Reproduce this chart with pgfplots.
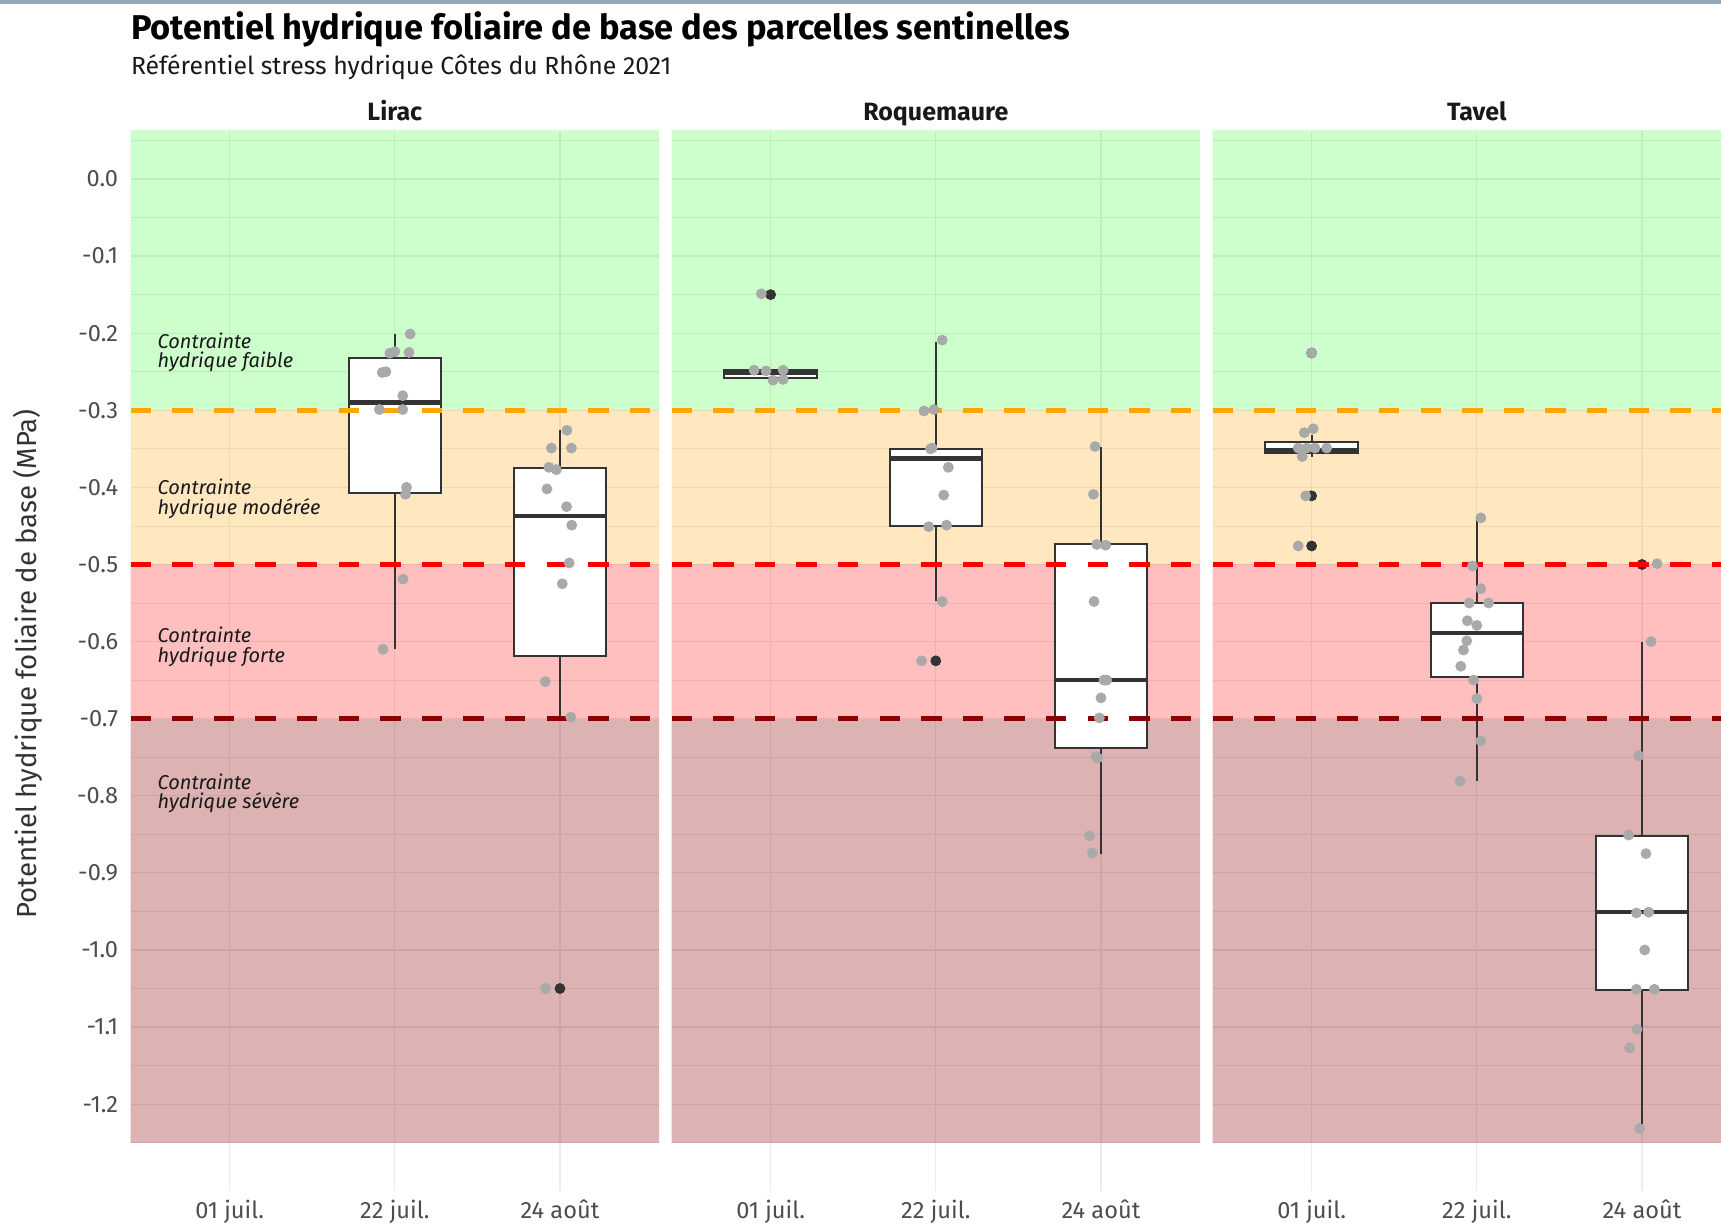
\documentclass[border=0pt]{standalone}
\usepackage{fontspec}
\setmainfont{Fira Sans}
\usepackage{pgfplots}
\pgfplotsset{compat=1.18}

\definecolor{gridc}{HTML}{EBEBEB}
\definecolor{boxc}{HTML}{333333}
\definecolor{ptc}{HTML}{A9A9A9}
\definecolor{tickc}{HTML}{4D4D4D}
\definecolor{darkred}{HTML}{8B0000}
\definecolor{orng}{HTML}{FFA500}
\definecolor{topbar}{HTML}{95A7B5}

\tikzset{note/.style={anchor=west, align=left, inner sep=0pt, font=\itshape\fontsize{10}{9.9}\selectfont, text=black!90}}

\pgfplotsset{
  panel/.style={
    scale only axis, width=264.3pt, height=530.05pt,
    xmin=0.4, xmax=3.6, ymin=-1.3125, ymax=0.0625,
    xtick={1,2,3}, xticklabels={01 juil.,22 juil.,24 août},
    ytick={-1.2,-1.1,-1.0,-0.9,-0.8,-0.7,-0.6,-0.5,-0.4,-0.3,-0.2,-0.1,0},
    minor ytick={-1.25,-1.15,-1.05,-0.95,-0.85,-0.75,-0.65,-0.55,-0.45,-0.35,-0.25,-0.15,-0.05,0.05},
    yticklabels={},
    xmajorgrids, ymajorgrids, yminorgrids,
    major grid style={draw=gridc, line width=0.6pt},
    minor grid style={draw=gridc, line width=0.4pt},
    axis line style={draw=none},
    major tick length=0pt, minor tick length=0pt,
    xticklabel style={font=\fontsize{11.8}{13}\selectfont, text=tickc, anchor=base, yshift=-13.55pt},
    clip mode=individual,
  },
  zone/.style={draw=none, fill=#1, fill opacity=0.2},
  seuil/.style={#1, line width=2.3pt, dash pattern=on 10.2pt off 10.6pt},
  pts/.style={only marks, mark=*, mark size=2.5pt, color=ptc, mark options={draw=none, fill=ptc}},
  outl/.style={only marks, mark=*, mark size=2.5pt, color=boxc, mark options={draw=none, fill=boxc}},
}

% bandes de contrainte et seuils, communs aux trois panneaux
\newcommand{\zones}{%
  \addplot[zone=green] coordinates {(0,-0.3) (4,-0.3) (4,1) (0,1)};
  \addplot[zone=orng, fill opacity=0.25] coordinates {(0,-0.5) (4,-0.5) (4,-0.3) (0,-0.3)};
  \addplot[zone=red, fill opacity=0.25] coordinates {(0,-0.7) (4,-0.7) (4,-0.5) (0,-0.5)};
  \addplot[zone=darkred, fill opacity=0.3] coordinates {(0,-1.25) (4,-1.25) (4,-0.7) (0,-0.7)};
}
\newcommand{\seuils}[1]{%
  \addplot[seuil=orng] coordinates {(0.4,-0.3) (#1,-0.3)};
  \addplot[seuil=red] coordinates {(0.4,-0.5) (#1,-0.5)};
  \addplot[seuil=darkred] coordinates {(0.4,-0.7) (#1,-0.7)};
}
% boite : position, moustache basse, Q1, mediane, Q3, moustache haute
\newcommand{\boite}[6]{%
  \pgfmathsetmacro{\bl}{#1-0.28}\pgfmathsetmacro{\br}{#1+0.28}%
  \addplot[boxc, line width=1pt] coordinates {(#1,#2) (#1,#3)};
  \addplot[boxc, line width=1pt] coordinates {(#1,#5) (#1,#6)};
  \addplot[boxc, fill=white, line width=1pt, line join=miter, line cap=rect] coordinates {(\bl,#3) (\br,#3) (\br,#5) (\bl,#5) (\bl,#3)};
  \addplot[boxc, line width=2.3pt] coordinates {(\bl,#4) (\br,#4)};
}

\begin{document}
\begin{tikzpicture}
\useasboundingbox (0,0) rectangle (860.5pt,611.5pt);
\fill[topbar] (0,609.5pt) rectangle (860.5pt,611.5pt);

% ---- Lirac
\begin{axis}[panel, at={(65.25pt,16.05pt)}, anchor=south west,
  yticklabels={-1.2,-1.1,-1.0,-0.9,-0.8,-0.7,-0.6,-0.5,-0.4,-0.3,-0.2,-0.1,0.0},
  yticklabel style={font=\fontsize{11.8}{13}\selectfont, text=tickc, anchor=east, inner sep=0pt, xshift=-6pt}]
\zones
\boite{2}{-0.609}{-0.407}{-0.290}{-0.232}{-0.201}
\boite{3}{-0.700}{-0.619}{-0.437}{-0.375}{-0.326}
\addplot[outl] coordinates {(3,-1.05)};
\seuils{3.6}
\addplot[pts] table {
x y
2.093 -0.201
2.000 -0.224
1.970 -0.226
2.086 -0.225
1.924 -0.251
1.946 -0.250
2.048 -0.281
1.907 -0.299
2.048 -0.299
2.071 -0.400
2.065 -0.409
2.050 -0.519
1.929 -0.610
3.042 -0.326
2.948 -0.349
3.069 -0.349
2.933 -0.374
2.978 -0.377
2.921 -0.402
3.040 -0.425
3.071 -0.449
3.056 -0.498
3.014 -0.525
2.911 -0.652
3.065 -0.698
2.913 -1.050
};
\node[note] at (axis cs:0.562,-0.225) {Contrainte\\hydrique faible};
\node[note] at (axis cs:0.562,-0.415) {Contrainte\\hydrique modérée};
\node[note] at (axis cs:0.562,-0.607) {Contrainte\\hydrique forte};
\node[note] at (axis cs:0.562,-0.797) {Contrainte\\hydrique sévère};
\end{axis}

% ---- Roquemaure
\begin{axis}[panel, at={(335.75pt,16.05pt)}, anchor=south west]
\zones
\boite{1}{-0.261}{-0.2585}{-0.251}{-0.248}{-0.248}
\boite{2}{-0.548}{-0.450}{-0.3626}{-0.3505}{-0.211}
\boite{3}{-0.876}{-0.738}{-0.650}{-0.474}{-0.348}
\addplot[outl] coordinates {(1,-0.150) (2,-0.625)};
\seuils{3.6}
\addplot[pts] table {
x y
0.944 -0.149
0.900 -0.248
0.972 -0.249
1.076 -0.248
1.015 -0.261
1.076 -0.260
2.039 -0.209
1.929 -0.301
1.989 -0.299
1.968 -0.350
1.978 -0.349
2.076 -0.374
2.048 -0.410
1.957 -0.451
2.065 -0.449
2.039 -0.548
1.914 -0.625
2.964 -0.347
2.954 -0.409
2.974 -0.474
3.028 -0.475
2.958 -0.548
3.018 -0.650
3.034 -0.650
3.000 -0.673
2.990 -0.699
2.970 -0.749
2.980 -0.751
2.930 -0.852
2.948 -0.874
};
\end{axis}

% ---- Tavel (coupé à droite comme dans l'original)
\begin{axis}[panel, at={(606.25pt,16.05pt)}, anchor=south west, width=254.25pt, xmax=3.478]
\zones
\boite{1}{-0.360}{-0.356}{-0.352}{-0.3406}{-0.3315}
\boite{2}{-0.781}{-0.6456}{-0.589}{-0.5505}{-0.441}
\boite{3}{-1.2315}{-1.0518}{-0.951}{-0.852}{-0.601}
\addplot[outl] coordinates {(1,-0.2257) (1,-0.411) (1,-0.476) (3,-0.500)};
\seuils{3.478}
\addplot[pts] table {
x y
1.000 -0.2257
1.010 -0.324
0.956 -0.329
0.919 -0.349
0.970 -0.349
1.020 -0.349
1.091 -0.349
0.943 -0.360
0.964 -0.411
0.919 -0.476
2.024 -0.4395
1.974 -0.502
2.024 -0.5315
1.954 -0.550
2.071 -0.550
1.943 -0.573
2.000 -0.579
1.939 -0.599
1.919 -0.611
1.903 -0.632
1.980 -0.650
2.000 -0.674
2.024 -0.729
1.899 -0.781
3.091 -0.499
3.055 -0.600
2.980 -0.748
2.919 -0.851
3.024 -0.875
2.966 -0.952
3.040 -0.951
3.016 -1.000
2.966 -1.051
3.075 -1.051
2.970 -1.103
2.925 -1.127
2.986 -1.2315
};
\end{axis}

% titres
\node[anchor=base west, inner sep=0pt, font=\bfseries\fontsize{17.2}{19}\selectfont] at (65.3pt,591.9pt) {Potentiel hydrique foliaire de base des parcelles sentinelles};
\node[anchor=base west, inner sep=0pt, font=\fontsize{12.4}{14}\selectfont, text=black!90] at (65.3pt,574.2pt) {Référentiel stress hydrique Côtes du Rhône 2021};
\node[anchor=base, inner sep=0pt, font=\bfseries\fontsize{12.5}{14}\selectfont, text=black!90] at (197.4pt,551pt) {Lirac};
\node[anchor=base, inner sep=0pt, font=\bfseries\fontsize{12.5}{14}\selectfont, text=black!90] at (467.9pt,551pt) {Roquemaure};
\node[anchor=base, inner sep=0pt, font=\bfseries\fontsize{12.5}{14}\selectfont, text=black!90] at (738.4pt,551pt) {Tavel};
\node[rotate=90, inner sep=0pt, font=\fontsize{13.8}{15}\selectfont, text=boxc] at (13.7pt,279.5pt) {Potentiel hydrique foliaire de base (MPa)};
\end{tikzpicture}
\end{document}
